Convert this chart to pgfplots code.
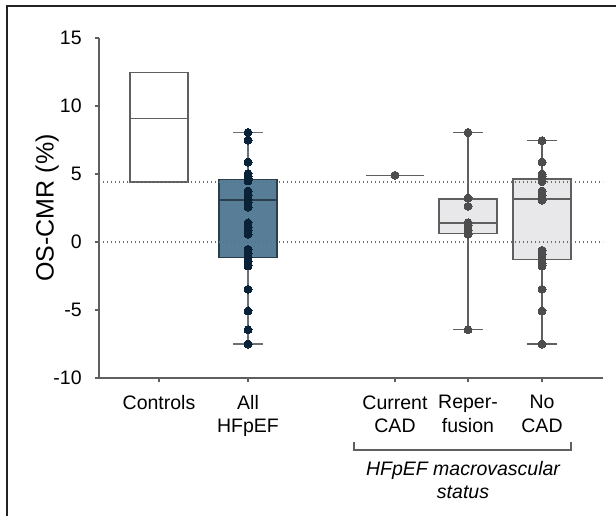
\documentclass[border=0pt]{standalone}
\usepackage{fontspec}
\setmainfont{Liberation Sans}
\usepackage{pgfplots}
\pgfplotsset{compat=1.18}
\definecolor{axgray}{RGB}{95,95,95}
\definecolor{boxgray}{RGB}{95,95,95}
\definecolor{lightfill}{RGB}{232,232,234}
\definecolor{bluefill}{RGB}{88,125,150}
\definecolor{navyedge}{RGB}{44,62,76}
\definecolor{navydot}{RGB}{10,34,56}
\definecolor{whgray}{RGB}{105,112,118}
\definecolor{dotgray}{RGB}{77,77,77}
\definecolor{refgray}{RGB}{110,110,110}
\definecolor{framec}{RGB}{34,34,34}

\begin{document}
\begin{tikzpicture}
\path[use as bounding box] (-49.5pt,-68.5pt) rectangle (258.5pt,189pt);
\draw[framec, line width=1pt] (-46pt,-70pt) -- (-46pt,186pt) -- (260pt,186pt);

\begin{axis}[
    at={(0,0)}, anchor=south west,
    scale only axis,
    width=252pt, height=170pt,
    xmin=99, xmax=603,
    ymin=-10, ymax=15,
    clip=false,
    axis x line*=bottom,
    axis y line*=left,
    axis line style={draw=axgray, line width=0.6pt},
    tick style={draw=axgray, line width=0.6pt},
    tick align=outside,
    major tick length=2pt,
    xtick={159,248,395,468,542},
    xticklabels={Controls, All\\HFpEF, Current\\CAD, Reper-\\fusion, No\\CAD},
    xticklabel style={align=center, anchor=north, inner sep=0pt, yshift=-6.5pt,
        font=\fontsize{9.75}{11.65}\selectfont},
    ytick={-10,-5,0,5,10,15},
    yticklabels={-10,-5,0,5,10,15},
    yticklabel style={anchor=east, inner sep=0pt, xshift=-6.5pt,
        font=\fontsize{9.75}{11.65}\selectfont},
    ylabel={OS-CMR (\%)},
    ylabel style={at={(axis description cs:-0.103,0.5)}, anchor=center,
        font=\fontsize{12.5}{14}\selectfont},
    every axis plot/.append style={line width=0.75pt},
]

% ---- whiskers ----
% All HFpEF
\addplot[whgray] coordinates {(248,-7.5) (248,8.05)};
\addplot[whgray] coordinates {(233,8.05) (263,8.05)};
\addplot[whgray] coordinates {(233,-7.5) (263,-7.5)};
% Reperfusion
\addplot[boxgray] coordinates {(468,-6.45) (468,8.05)};
\addplot[boxgray] coordinates {(453,8.05) (483,8.05)};
\addplot[boxgray] coordinates {(453,-6.45) (483,-6.45)};
% No CAD
\addplot[boxgray] coordinates {(542,-7.5) (542,7.45)};
\addplot[boxgray] coordinates {(527,7.45) (557,7.45)};
\addplot[boxgray] coordinates {(527,-7.5) (557,-7.5)};

% ---- boxes (quartiles) and medians ----
% Controls
\addplot[draw=boxgray, fill=white] coordinates {(130,4.4) (188,4.4) (188,12.45) (130,12.45)} -- cycle;
\addplot[boxgray] coordinates {(130,9.07) (188,9.07)};
% All HFpEF
\addplot[draw=navyedge, fill=bluefill] coordinates {(219,-1.15) (277,-1.15) (277,4.58) (219,4.58)} -- cycle;
\addplot[navyedge] coordinates {(219,3.1) (277,3.1)};
% Current CAD (single value)
\addplot[boxgray] coordinates {(366,4.9) (424,4.9)};
% Reperfusion
\addplot[draw=boxgray, fill=lightfill] coordinates {(439,0.61) (497,0.61) (497,3.18) (439,3.18)} -- cycle;
\addplot[boxgray] coordinates {(439,1.4) (497,1.4)};
% No CAD
\addplot[draw=boxgray, fill=lightfill] coordinates {(513,-1.3) (571,-1.3) (571,4.65) (513,4.65)} -- cycle;
\addplot[boxgray] coordinates {(513,3.15) (571,3.15)};

% ---- reference lines ----
\addplot[draw=refgray, line width=0.7pt, dash pattern=on 0.7pt off 1.3pt] coordinates {(99,4.4) (603,4.4)};
\addplot[draw=refgray, line width=0.7pt, dash pattern=on 0.7pt off 1.3pt] coordinates {(99,0) (603,0)};

% ---- individual values ----
\addplot[only marks, mark=*, mark size=2pt, mark options={draw=navydot, fill=navydot, line width=0pt}]
    coordinates {
    (248,8.05) (248,7.48) (248,5.88) (248,5.02) (248,4.85) (248,4.65) (248,4.49)
    (248,3.75) (248,3.43) (248,3.14) (248,2.89) (248,2.57) (248,1.40) (248,1.10)
    (248,0.81) (248,0.57) (248,-0.54) (248,-0.86) (248,-1.15) (248,-1.47) (248,-1.76)
    (248,-3.48) (248,-5.07) (248,-6.45) (248,-7.5)
    };
\addplot[only marks, mark=*, mark size=2pt, mark options={draw=dotgray, fill=dotgray, line width=0pt}]
    coordinates {
    (395,4.9)
    (468,8.05) (468,3.24) (468,2.62) (468,1.42) (468,1.2) (468,0.86) (468,0.57) (468,-6.45)
    (542,7.45) (542,5.88) (542,5.0) (542,4.85) (542,4.65) (542,4.45) (542,3.75) (542,3.43)
    (542,3.07) (542,-0.61) (542,-0.93) (542,-1.27) (542,-1.59) (542,-1.76) (542,-3.48)
    (542,-5.07) (542,-7.5)
    };

% ---- group bracket ----
\draw[draw=boxgray, line width=0.6pt] ([yshift=-32pt]axis cs:354,-10) -- ([yshift=-36pt]axis cs:354,-10)
    -- ([yshift=-36pt]axis cs:571,-10) -- ([yshift=-32pt]axis cs:571,-10);
\node[anchor=base, inner sep=0pt, font=\fontsize{9.75}{12}\selectfont\itshape]
    at ([yshift=-48.5pt]axis cs:463,-10) {HFpEF macrovascular};
\node[anchor=base, inner sep=0pt, font=\fontsize{9.75}{12}\selectfont\itshape]
    at ([yshift=-60pt]axis cs:463,-10) {status};
\end{axis}
\end{tikzpicture}
\end{document}
